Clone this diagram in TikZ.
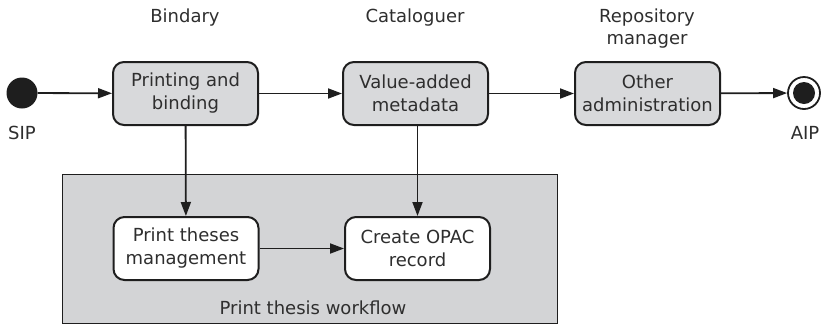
\documentclass[tikz,border=0pt]{standalone}
\usepackage{fontspec}
\setmainfont{DejaVu Sans}
\usetikzlibrary{arrows.meta}
\definecolor{ink}{HTML}{1E1E1E}
\definecolor{txt}{HTML}{2E2E2E}
\definecolor{boxfill}{HTML}{D8D9DB}
\definecolor{panelfill}{HTML}{D3D4D6}
\tikzset{
  every node/.style={font=\fontsize{18}{23}\selectfont, text=txt},
  act/.style={draw=ink, line width=2pt, rounded corners=11pt, align=center,
    minimum width=145pt, minimum height=63pt, inner sep=0pt},
  graybox/.style={act, fill=boxfill},
  whitebox/.style={act, fill=white},
  flow/.style={draw=ink, line width=1.8pt, -{Triangle[length=14pt,width=10pt]}},
  lane/.style={align=center, text=txt}
}
\begin{document}
\begin{tikzpicture}[x=1pt,y=-1pt]
  \useasboundingbox (0,0) rectangle (821,325);

  % container for the print thesis workflow
  \node[draw=ink, line width=1.6pt, fill=panelfill, minimum width=495pt, minimum height=149pt,
        inner sep=0pt] (panel) at (310,249) {};
  \node (paneltitle) at (313,308) {Print thesis workflow};

  % lane headings
  \node[lane] (h1) at (185,18) {Bindary};
  \node[lane] (h2) at (415,18) {Cataloguer};
  \node[lane, font=\fontsize{18}{22}\selectfont] (h3) at (647,29) {Repository\\manager};

  % start and end states
  \node[circle, fill=ink, minimum size=31pt, inner sep=0pt] (sip) at (22,93) {};
  \node (siplabel) at (22,133) {SIP};
  \node[circle, draw=ink, line width=1.8pt, fill=white, minimum size=32pt, inner sep=0pt] (aip) at (804,93) {};
  \node[circle, fill=ink, minimum size=22pt, inner sep=0pt] (aipdot) at (aip.center) {};
  \node (aiplabel) at (805,133) {AIP};

  % activities
  \node[graybox] (print) at (185.5,93.5) {Printing and\\binding};
  \node[graybox] (meta) at (415.5,93.5) {Value-added\\metadata};
  \node[graybox] (admin) at (647.5,93.5) {Other\\administration};
  \node[whitebox] (ptm) at (186,248.5) {Print theses\\management};
  \node[whitebox] (opac) at (417.5,248.5) {Create OPAC\\record};

  % transitions
  \draw[flow] (sip) -- (print);
  \draw[flow] (print) -- (meta);
  \draw[flow] (meta) -- (admin);
  \draw[flow] (admin) -- (aip);
  \draw[flow] (print) -- (ptm);
  \draw[flow] (meta.south -| opac.north) -- (opac);
  \draw[flow] (ptm) -- (opac);
\end{tikzpicture}
\end{document}
